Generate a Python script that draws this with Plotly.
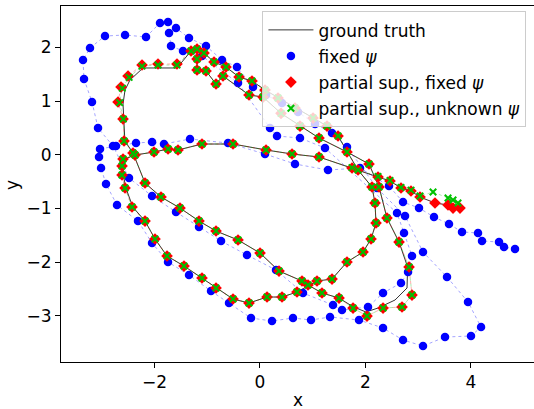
import plotly.graph_objects as go

# ---------------- data ----------------
red_x = [3.793, 3.661, 3.566, 3.319, 3.035, 2.864, 2.675, 2.466, 2.239, 1.746, 1.120, 0.609, 0.116, -0.510, -1.098, -1.553, -1.742, -2.008, -2.368,
         -2.595, -2.614, -2.614, -2.557, -2.425, -2.178, -1.989, -1.761, -1.439, -1.098, -0.832, -0.510, -0.207, 0.135, 0.419, 0.703, 1.082, 1.367, 1.651, 1.955, 2.106, 2.201, 2.182, 2.125, 1.860, 1.481, 1.272, 1.007, 0.665, 0.343, 0.097, -0.150, -0.396, -0.643, -0.870,
         -1.060, -1.192, -1.306, -1.572, -1.932, -2.235, -2.500, -2.633, -2.690, -2.595, -2.576, -2.406,
         -2.178, -1.875, -1.515, -1.155, -0.832, -0.415, 0.002, 0.362, 0.798, 0.912, 1.177, 1.500, 1.765, 2.030, 2.334, 2.694, 2.883, 2.827, 2.637, 2.409, 2.258, 2.068, 1.651, 1.120, 0.760, 0.400, 0.059, -0.207, -0.700, -0.832, -1.022, -1.192, -1.192]
red_y = [-0.993, -0.993, -0.937, -0.899, -0.788, -0.676, -0.620, -0.490, -0.415, -0.248, -0.043, 0.013, 0.088, 0.199, 0.199, 0.088, 0.106, 0.050, -0.006,
         -0.080, -0.210, -0.378, -0.620, -0.974, -1.235, -1.570, -1.886, -2.073, -2.296, -2.482, -2.687, -2.762, -2.650, -2.650, -2.557, -2.352, -2.315, -1.998, -1.812, -1.570, -1.272, -0.899, -0.601, -0.285, 0.348, 0.534, 0.683, 0.870, 1.056, 1.205, 1.372, 1.447, 1.633, 1.726,
         1.894, 1.968, 1.931, 1.689, 1.689, 1.670, 1.466, 1.261, 0.981, 0.665, 0.255, 0.032,
         -0.527, -0.788, -0.993, -1.235, -1.421, -1.588, -1.831, -2.166, -2.352, -2.426, -2.575, -2.669, -2.855, -3.004, -2.855, -2.836, -2.613, -2.091, -1.626, -1.179, -0.601, -0.173, 0.050, 0.311, 0.534, 0.770, 1.074, 1.112, 1.466, 1.317, 1.559, 1.577, 1.782]

green_x = [3.755, 3.661, 3.566, 3.282, 3.035, 2.864, 2.675, 2.466, 2.239, 1.746, 1.120, 0.609, 0.116, -0.510, -1.098, -1.553, -1.742, -2.008, -2.368,
           -2.595, -2.614, -2.614, -2.557, -2.425, -2.178, -1.989, -1.761, -1.439, -1.098, -0.832, -0.510, -0.207, 0.135, 0.419, 0.703, 1.082, 1.367, 1.651, 1.955, 2.106, 2.201, 2.182, 2.125, 1.860, 1.481, 1.272, 1.007, 0.665, 0.343, 0.097, -0.150, -0.396, -0.643, -0.870,
           -1.060, -1.192, -1.306, -1.572, -1.932, -2.235, -2.480, -2.610, -2.660, -2.590, -2.576, -2.406,
           -2.178, -1.875, -1.515, -1.155, -0.832, -0.415, 0.002, 0.362, 0.798, 0.912, 1.177, 1.500, 1.765, 2.030, 2.334, 2.694, 2.883, 2.827, 2.637, 2.409, 2.258, 2.068, 1.651, 1.120, 0.760, 0.400, 0.059, -0.207, -0.700, -0.832, -1.022, -1.192, -1.192]
green_y = [-0.899, -0.844, -0.806, -0.695, -0.770, -0.660, -0.610, -0.480, -0.405, -0.240, -0.043, 0.013, 0.088, 0.199, 0.199, 0.088, 0.106, 0.050, -0.006,
           -0.080, -0.210, -0.378, -0.620, -0.974, -1.235, -1.570, -1.886, -2.073, -2.296, -2.482, -2.687, -2.762, -2.650, -2.650, -2.557, -2.352, -2.315, -1.998, -1.812, -1.570, -1.272, -0.899, -0.601, -0.285, 0.348, 0.534, 0.683, 0.870, 1.056, 1.205, 1.372, 1.447, 1.633, 1.726,
           1.894, 1.968, 1.931, 1.670, 1.670, 1.650, 1.440, 1.240, 0.970, 0.665, 0.255, 0.032,
           -0.527, -0.788, -0.993, -1.235, -1.421, -1.588, -1.831, -2.166, -2.352, -2.426, -2.575, -2.669, -2.855, -3.004, -2.855, -2.836, -2.613, -2.091, -1.626, -1.179, -0.601, -0.173, 0.050, 0.311, 0.534, 0.770, 1.074, 1.112, 1.466, 1.317, 1.559, 1.577, 1.782]

truth_x = [3.793, 3.661, 3.566, 3.319, 3.035, 2.864, 2.675, 2.466, 2.239, 1.746, 1.120, 0.609, 0.116, -0.510, -1.098, -1.553, -1.742, -2.008, -2.368,
           -2.560, -2.590, -2.590, -2.540, -2.410, -2.178, -1.989, -1.761, -1.439, -1.098, -0.832, -0.510, -0.207, 0.135, 0.419, 0.703, 1.082, 1.367, 1.651, 1.955, 2.106, 2.201, 2.182, 2.125, 1.860, 1.481, 1.272, 1.007, 0.665, 0.343, 0.097, -0.150, -0.396, -0.643, -0.870,
           -1.060, -1.192, -1.306, -1.572, -1.932, -2.216, -2.463, -2.557, -2.595, -2.576, -2.560, -2.406,
           -2.178, -1.875, -1.515, -1.155, -0.832, -0.415, 0.002, 0.362, 0.798, 0.912, 1.177, 1.500, 1.765, 2.010, 2.239, 2.561, 2.789, 2.800, 2.637, 2.409, 2.258, 2.068, 1.651, 1.120, 0.760, 0.400, 0.059, -0.207, -0.700, -0.832, -1.022, -1.192, -1.192]
truth_y = [-0.993, -0.993, -0.937, -0.899, -0.788, -0.676, -0.620, -0.490, -0.415, -0.248, -0.043, 0.013, 0.088, 0.199, 0.199, 0.088, 0.106, 0.050, -0.006,
           -0.080, -0.210, -0.378, -0.620, -0.974, -1.235, -1.570, -1.886, -2.073, -2.296, -2.482, -2.687, -2.762, -2.650, -2.650, -2.557, -2.352, -2.315, -1.998, -1.812, -1.570, -1.272, -0.899, -0.601, -0.285, 0.348, 0.534, 0.683, 0.870, 1.056, 1.205, 1.372, 1.447, 1.633, 1.726,
           1.894, 1.968, 1.931, 1.615, 1.615, 1.615, 1.391, 1.205, 0.944, 0.646, 0.255, 0.032,
           -0.527, -0.788, -0.993, -1.235, -1.421, -1.588, -1.831, -2.166, -2.352, -2.426, -2.575, -2.669, -2.830, -2.929, -2.855, -2.706, -2.482, -2.091, -1.626, -1.179, -0.601, -0.173, 0.050, 0.311, 0.534, 0.770, 1.074, 1.112, 1.466, 1.317, 1.559, 1.577, 1.782]

blue_x = [4.836, 4.627, 4.533, 4.210, 4.135, 3.831, 3.585, 3.300, 3.016, 2.713, 2.447, 1.898, 1.291, 0.665, 0.097, -0.605, -1.325, -1.818, -2.045, -2.349, -2.728,
          -3.031, -3.050, -3.012, -2.918, -2.709, -2.311, -2.045, -1.742, -1.344, -0.927, -0.586, -0.169, 0.229, 0.627, 0.969, 1.329, 1.879, 2.334, 2.713, 3.092, 3.509, 4.002, 4.192, 3.945, 3.547, 3.092, 2.751, 2.220, 1.651, 1.367, 1.045, 0.722, 0.419, 0.116, -0.131, -0.434, -0.718, -1.022, -1.344,
          -1.591, -1.742, -1.894, -2.159, -2.557, -2.937, -3.221, -3.354, -3.335, -3.183, -3.069, -2.785, -2.482,
          -2.045, -1.591, -1.155, -0.737, -0.245, 0.305, 0.817, 1.386, 1.556, 2.049, 2.334, 2.675, 2.808, 2.883, 2.732, 2.599, 1.234, 0.760, 0.324, 0.191, -0.415, -1.098, -1.458, -1.685, -1.723]
blue_y = [-1.756, -1.719, -1.626, -1.607, -1.458, -1.439, -1.291, -1.160, -0.993, -0.881, -0.583, -0.248, -0.285, -0.173, 0.013, 0.218, 0.292, 0.199, 0.236, 0.218, 0.162,
          0.106, -0.043, -0.248, -0.546, -0.937, -1.235, -1.644, -1.998, -2.240, -2.538, -2.762, -3.041, -3.097, -3.041, -3.078, -3.022, -3.078, -3.227, -3.451, -3.562, -3.395, -3.376, -3.209, -2.743, -2.277, -1.812, -1.142, -0.620, 0.143, 0.404, 0.572, 0.795, 0.963, 1.112, 1.261, 1.633, 1.764, 2.024, 2.173,
          2.359, 2.471, 2.453, 2.192, 2.229, 2.210, 1.987, 1.764, 1.410, 0.981, 0.497, 0.162, -0.434,
          -0.769, -1.067, -1.346, -1.607, -1.868, -2.147, -2.575, -2.799, -2.892, -2.836, -2.575, -2.389, -2.184, -1.886, -1.458, -1.086, 0.125, 0.311, 0.348, 0.497, 1.335, 1.838, 1.931, 2.024, 2.266]

x_ticks = [-2, 0, 2, 4]
y_ticks = [-3, -2, -1, 0, 1, 2]

# ---------------- figure ----------------
FONT = "DejaVu Sans"
FS = 17
fig = go.Figure()

fig.add_trace(go.Scatter(x=truth_x, y=truth_y, mode="lines",
                         line=dict(color="black", width=0.8),
                         name="ground truth", legendgroup="g1"))

fig.add_trace(go.Scatter(x=blue_x, y=blue_y, mode="lines",
                         line=dict(color="rgba(0,0,255,0.45)", width=0.8, dash="dot"),
                         showlegend=False, hoverinfo="skip"))
fig.add_trace(go.Scatter(x=blue_x, y=blue_y, mode="markers",
                         marker=dict(color="#0000ff", size=8.5, line=dict(width=0)),
                         name="fixed <i>ψ</i>", legendgroup="g2"))

fig.add_trace(go.Scatter(x=red_x, y=red_y, mode="lines",
                         line=dict(color="rgba(255,0,0,0.4)", width=0.8, dash="dot"),
                         showlegend=False, hoverinfo="skip"))
fig.add_trace(go.Scatter(x=red_x, y=red_y, mode="markers",
                         marker=dict(color="#ff0000", symbol="diamond", size=9, line=dict(width=0)),
                         name="partial sup., fixed <i>ψ</i>", legendgroup="g3"))

fig.add_trace(go.Scatter(x=green_x, y=green_y, mode="lines",
                         line=dict(color="rgba(0,190,0,0.4)", width=0.8, dash="dot"),
                         showlegend=False, hoverinfo="skip"))
fig.add_trace(go.Scatter(x=green_x, y=green_y, mode="markers",
                         marker=dict(color="#00c000", symbol="x-thin", size=6.5,
                                     line=dict(color="#00c000", width=2)),
                         name="partial sup., unknown <i>ψ</i>", legendgroup="g4"))

axis_common = dict(showgrid=False, zeroline=False, showline=True, linecolor="black",
                   linewidth=1, ticks="outside", ticklen=5, tickwidth=1, tickcolor="black",
                   automargin=False,
                   tickfont=dict(family=FONT, size=FS, color="black"))

fig.update_layout(
    width=534, height=409,
    margin=dict(l=61, r=0, t=6, b=47),
    paper_bgcolor="white", plot_bgcolor="white",
    font=dict(family=FONT, size=FS, color="black"),
    xaxis=dict(range=[-3.771, 5.196], tickvals=x_ticks, mirror=True, **axis_common),
    yaxis=dict(range=[-3.860, 2.769], tickvals=y_ticks, mirror=False, **axis_common),
    legend=dict(x=0.984, y=0.985, xanchor="right", yanchor="top",
                bgcolor="rgba(255,255,255,0.8)", bordercolor="#cccccc", borderwidth=1,
                font=dict(family=FONT, size=FS, color="black"),
                tracegroupgap=1, itemwidth=45),
    annotations=[
        dict(text="x", xref="paper", yref="paper", x=0.501, y=-0.107,
             xanchor="center", yanchor="middle", showarrow=False,
             font=dict(family=FONT, size=FS, color="black")),
        dict(text="y", xref="paper", yref="paper", x=-0.104, y=0.497,
             xanchor="center", yanchor="middle", showarrow=False, textangle=-90,
             font=dict(family=FONT, size=FS, color="black")),
    ],
)

fig.write_html("out.html", config={"displayModeBar": False},
               post_script="document.body.style.margin='0px';document.body.style.overflow='hidden';")
